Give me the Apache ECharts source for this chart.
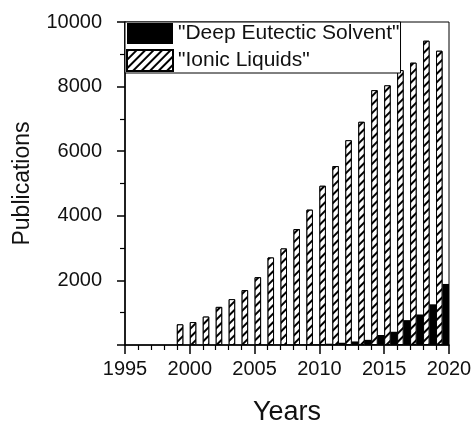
<!DOCTYPE html>
<html>
<head>
<meta charset="utf-8">
<script src="https://cdn.jsdelivr.net/npm/echarts@6/dist/echarts.min.js"></script>
<style>html,body{margin:0;padding:0;background:#fff;}#chart{width:472px;height:423px;}</style>
</head>
<body>
<div id="chart"></div>
<script>
// Each category is one year-wide slot starting at the tick of that year
var years = ['1995','1996','1997','1998','1999','2000','2001','2002','2003','2004','2005','2006','2007','2008','2009','2010','2011','2012','2013','2014','2015','2016','2017','2018','2019'];
var ionicLiquids = [null,null,null,null,640,710,880,1180,1420,1700,2100,2710,2990,3590,4190,4930,5540,6340,6910,7890,8040,8510,8740,9420,9110];
var deepEutectic = [null,null,null,null,0,0,0,0,2,4,6,8,10,14,20,40,70,110,160,310,410,770,945,1260,1890];
var yTicks = [0, 10000, 2000];
var xTicks = [1995, 2020, 5];
var legendNames = ['"Deep Eutectic Solvent"', '"Ionic Liquids"'];

var FONT = "'Liberation Sans', Arial, sans-serif";
var chart = echarts.init(document.getElementById('chart'), null, {renderer: 'canvas'});
var hatch = {
  symbol: 'rect', symbolSize: 1, color: '#000', backgroundColor: '#fff',
  dashArrayX: [1, 0], dashArrayY: [1.2, 3.4], rotation: -Math.PI / 4
};
chart.setOption({
  animation: false,
  backgroundColor: '#fff',
  grid: {left: 125, right: 23, top: 22, bottom: 78, outerBoundsMode: 'none', containLabel: false,
    show: true, borderColor: '#000', borderWidth: 1, backgroundColor: 'transparent'},
  legend: {
    data: legendNames, orient: 'vertical', left: 125, top: 22,
    itemWidth: 46, itemHeight: 21, itemGap: 5, padding: [1, 1, 1, 1],
    backgroundColor: '#fff', borderColor: '#000', borderWidth: 1,
    icon: 'rect', z: 10,
    textStyle: {fontFamily: FONT, fontSize: 21, color: '#111'}
  },
  xAxis: [{
    type: 'category', data: years, show: false, boundaryGap: true
  }, {
    type: 'value', position: 'bottom', min: xTicks[0], max: xTicks[1], interval: xTicks[2],
    name: 'Years', nameLocation: 'middle', nameGap: 54,
    nameTextStyle: {fontFamily: FONT, fontSize: 27, color: '#111'},
    axisLine: {show: true, onZero: false, lineStyle: {color: '#000', width: 1.5}},
    axisTick: {show: true, length: 9, lineStyle: {color: '#000', width: 1.5}},
    minorTick: {show: true, splitNumber: 5, length: 5, lineStyle: {color: '#000', width: 1.2}},
    axisLabel: {fontFamily: FONT, fontSize: 20, color: '#111', margin: 14,
      formatter: function (v) { return String(v); }},
    splitLine: {show: false}, minorSplitLine: {show: false}
  }],
  yAxis: {
    type: 'value', min: yTicks[0], max: yTicks[1], interval: yTicks[2],
    name: 'Publications', nameLocation: 'middle', nameGap: 91,
    nameTextStyle: {fontFamily: FONT, fontSize: 23, color: '#111'},
    axisLine: {show: true, lineStyle: {color: '#000', width: 1.5}},
    axisTick: {show: true, length: 8, lineStyle: {color: '#000', width: 1.5}},
    minorTick: {show: true, splitNumber: 2, length: 5, lineStyle: {color: '#000', width: 1.2}},
    axisLabel: {fontFamily: FONT, fontSize: 20, color: '#111', margin: 23,
      formatter: function (v) { return v === 0 ? '' : String(v); }},
    splitLine: {show: false}
  },
  series: [{
    name: legendNames[1], type: 'bar', xAxisIndex: 0, data: ionicLiquids,
    barGap: '0%', barCategoryGap: '0%',
    itemStyle: {color: '#fff', borderColor: '#000', borderWidth: 1, decal: hatch}
  }, {
    name: legendNames[0], type: 'bar', xAxisIndex: 0, data: deepEutectic,
    barGap: '0%', barCategoryGap: '0%',
    itemStyle: {color: '#000', borderColor: '#000', borderWidth: 0}
  }]
});
</script>
</body>
</html>
